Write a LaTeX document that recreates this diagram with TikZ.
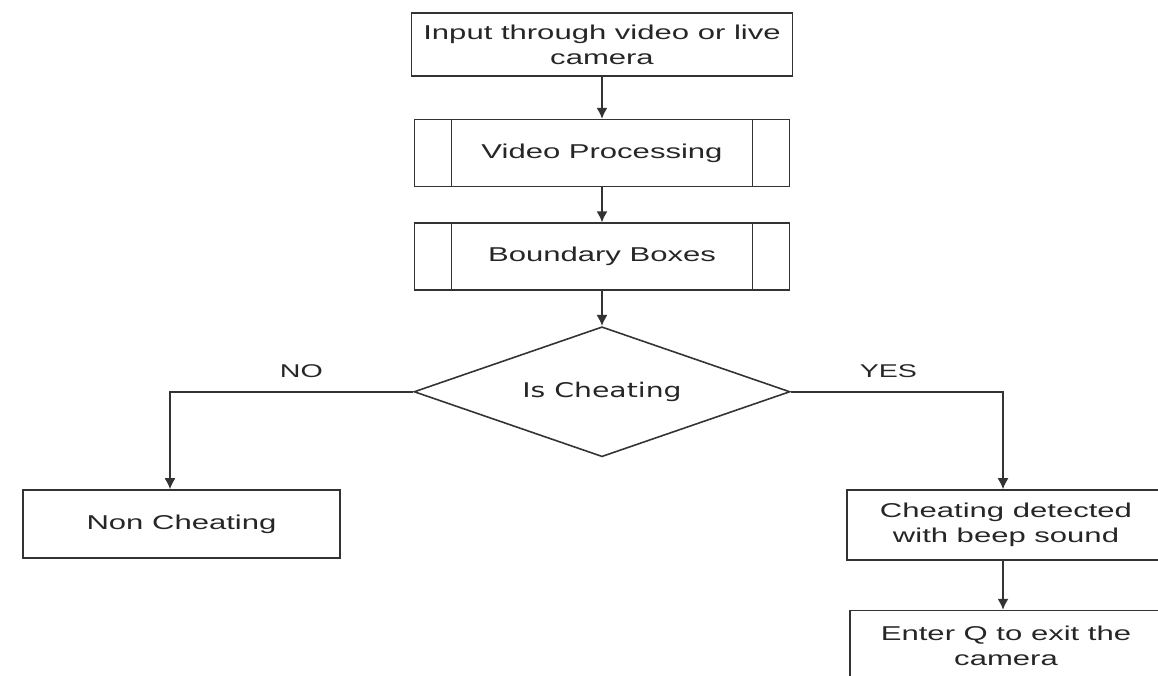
\documentclass[tikz,border=0pt]{standalone}
\usepackage{fontspec}
\setmainfont{Liberation Sans}[FakeStretch=1.55]
\newfontfamily\decfont{DejaVu Sans}[FakeStretch=1.4]
\usetikzlibrary{shapes,arrows.meta,positioning,calc}
\newcommand{\boxfont}{\fontsize{11.4}{14.2}\selectfont}

\begin{document}
\begin{tikzpicture}[
  node distance=0.7cm,
  box/.style={draw=black!80, line width=0.9pt, align=center, inner sep=0pt, minimum width=7.5cm, minimum height=1.34cm, font=\boxfont, text=black!85},
  proc/.style={box, path picture={
      \draw[black!80, line width=0.9pt] ([xshift=0.74cm]path picture bounding box.north west) -- ([xshift=0.74cm]path picture bounding box.south west);
      \draw[black!80, line width=0.9pt] ([xshift=-0.74cm]path picture bounding box.north east) -- ([xshift=-0.74cm]path picture bounding box.south east);}},
  decision/.style={draw=black!80, line width=0.9pt, diamond, aspect=2.9, inner sep=0pt, minimum width=7.52cm, minimum height=2.6cm, font=\decfont\fontsize{11.5}{14}\selectfont, text=black!85},
  branch/.style={font=\fontsize{10.5}{12}\selectfont, text=black!85},
  arrow/.style={-{Latex[length=2.2mm,width=2.2mm]}, line width=0.9pt, draw=black!80}
]
\useasboundingbox (0,0) rectangle (23.16,-13.5);
\clip (0,0) rectangle (23.16,-13.5);
\node[box, minimum width=7.62cm, minimum height=1.26cm] (input) at (12.04,-0.89) {Input through video or live\\camera};
\node[proc, below=0.84cm of input] (video) {Video Processing};
\node[proc, below=of video] (bound) {Boundary Boxes};
\node[decision, below=of bound] (cheating) {Is Cheating};
\node[box, minimum width=6.34cm, minimum height=1.36cm] (noncheat) at (3.63,-10.48) {Non Cheating};
\node[box, minimum width=6.36cm, minimum height=1.4cm] (detected) at (20.12,-10.5) {Cheating detected\\with beep sound};
\node[box, minimum width=6.24cm, minimum height=1.4cm, below=0.98cm of detected] (exitq) {Enter Q to exit the\\camera};
\draw[arrow] (input) -- (video);
\draw[arrow] (video) -- (bound);
\draw[arrow] (bound) -- (cheating);
\draw[arrow] (cheating.west) -| node[branch, pos=0.23, above=0.15cm]{NO} ([xshift=-0.23cm]noncheat.north);
\draw[arrow] (cheating.east) -| node[branch, pos=0.23, above=0.15cm]{YES} ([xshift=-0.06cm]detected.north);
\draw[arrow] ([xshift=-0.06cm]detected.south) -- ([xshift=-0.06cm]detected.south |- exitq.north);
\end{tikzpicture}
\end{document}
